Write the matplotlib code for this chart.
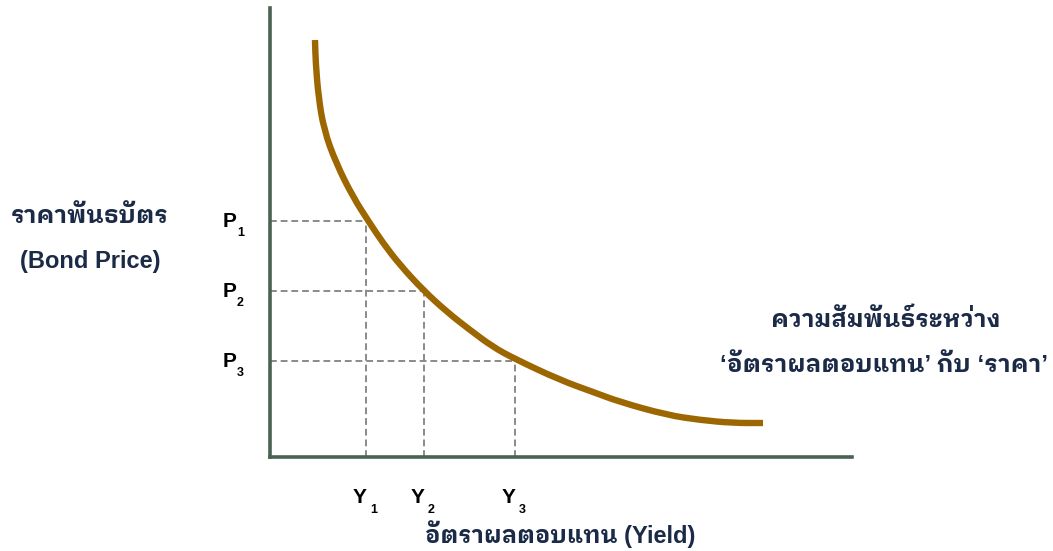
import matplotlib
matplotlib.use("Agg")
import matplotlib.pyplot as plt
from matplotlib.path import Path
from matplotlib.patches import PathPatch

# ---- data (in pixel-like units) ----
curve_x = [45, 45.7, 48.5, 54, 66, 83, 99, 113, 130, 153, 177, 200, 223, 245,
           290, 323, 350, 397, 430, 463, 493]
curve_y = [417, 394, 360, 327, 294, 260, 235, 214, 192, 167, 145, 127, 110, 98,
           77, 65, 55, 42, 37, 34, 34]

yield_pos = [96, 154, 245]          # Y1, Y2, Y3
price_pos = [236, 166, 96]          # P1, P2, P3
y_labels = ["1", "2", "3"]
p_labels = ["1", "2", "3"]

ylabel_th = "ราคาพันธบัตร"
ylabel_en = "(Bond Price)"
xlabel = "อัตราผลตอบแทน (Yield)"
note1 = "ความสัมพันธ์ระหว่าง"
note2 = "‘อัตราผลตอบแทน’ กับ ‘ราคา’"

TXT = "#1b2b47"
CURVE = "#9c6700"
AXIS = "#4a6252"
DASH = "#8a8a8a"
FAM = ["Liberation Sans", "IBM Plex Sans Thai Looped", "DejaVu Sans"]

W, H = 1053, 551
fig = plt.figure(figsize=(W / 100, H / 100), dpi=100)
x0, y0, x1, y1 = 270, 457, 852, 8
ax = fig.add_axes([x0 / W, (H - y0) / H, (x1 - x0) / W, (y0 - y1) / H])
ax.set_xlim(0, x1 - x0)
ax.set_ylim(0, y0 - y1)
for s in ["top", "right"]:
    ax.spines[s].set_visible(False)
for s in ["left", "bottom"]:
    ax.spines[s].set_color(AXIS)
    ax.spines[s].set_linewidth(2.6)
    ax.spines[s].set_capstyle("projecting")
ax.set_xticks([])
ax.set_yticks([])

# dashed guide lines
for xp, yp in zip(yield_pos, price_pos):
    ax.plot([0, xp], [yp, yp], color=DASH, lw=1.4, dashes=(3.5, 2), zorder=1)
    ax.plot([xp, xp], [0, yp], color=DASH, lw=1.4, dashes=(3.5, 2), zorder=1)

# smooth curve through the read points (quadratic Bezier via midpoints)
pts = list(zip(curve_x, curve_y))
mid = lambda a, b: ((a[0] + b[0]) / 2, (a[1] + b[1]) / 2)
verts = [pts[0], mid(pts[0], pts[1])]
codes = [Path.MOVETO, Path.LINETO]
for i in range(1, len(pts) - 1):
    verts += [pts[i], mid(pts[i], pts[i + 1])]
    codes += [Path.CURVE3, Path.CURVE3]
verts.append(pts[-1]); codes.append(Path.LINETO)
ax.add_patch(PathPatch(Path(verts, codes), fill=False, edgecolor=CURVE,
                       lw=4.6, capstyle="butt", joinstyle="round", zorder=3))

# P labels
for yp, lab in zip(price_pos, p_labels):
    ax.text(-34, yp - 6, "P", ha="right", va="baseline", fontsize=15,
            fontweight="bold", color="black", family=FAM, clip_on=False)
    ax.text(-33, yp - 15, lab, ha="left", va="baseline", fontsize=9,
            fontweight="bold", color="black", family=FAM, clip_on=False)

# Y labels
for xp, lab in zip(yield_pos, y_labels):
    ax.text(xp + 1, -46, "Y", ha="right", va="baseline", fontsize=15,
            fontweight="bold", color="black", family=FAM, clip_on=False)
    ax.text(xp + 4, -56, lab, ha="left", va="baseline", fontsize=9,
            fontweight="bold", color="black", family=FAM, clip_on=False)

# axis titles and note
fig.text(90 / W, 1 - 223 / H, ylabel_th, ha="center", va="baseline",
         fontsize=17.5, fontweight="bold", color=TXT, family=FAM)
fig.text(90 / W, 1 - 268 / H, ylabel_en, ha="center", va="baseline",
         fontsize=17, fontweight="bold", color=TXT, family=FAM)
fig.text(560 / W, 1 - 543 / H, xlabel, ha="center", va="baseline",
         fontsize=17, fontweight="bold", color=TXT, family=FAM)
fig.text(886 / W, 1 - 327 / H, note1, ha="center", va="baseline",
         fontsize=17.5, fontweight="bold", color=TXT, family=FAM)
fig.text(884 / W, 1 - 372 / H, note2, ha="center", va="baseline",
         fontsize=17.5, fontweight="bold", color=TXT, family=FAM)

fig.savefig("out.png", dpi=100)
